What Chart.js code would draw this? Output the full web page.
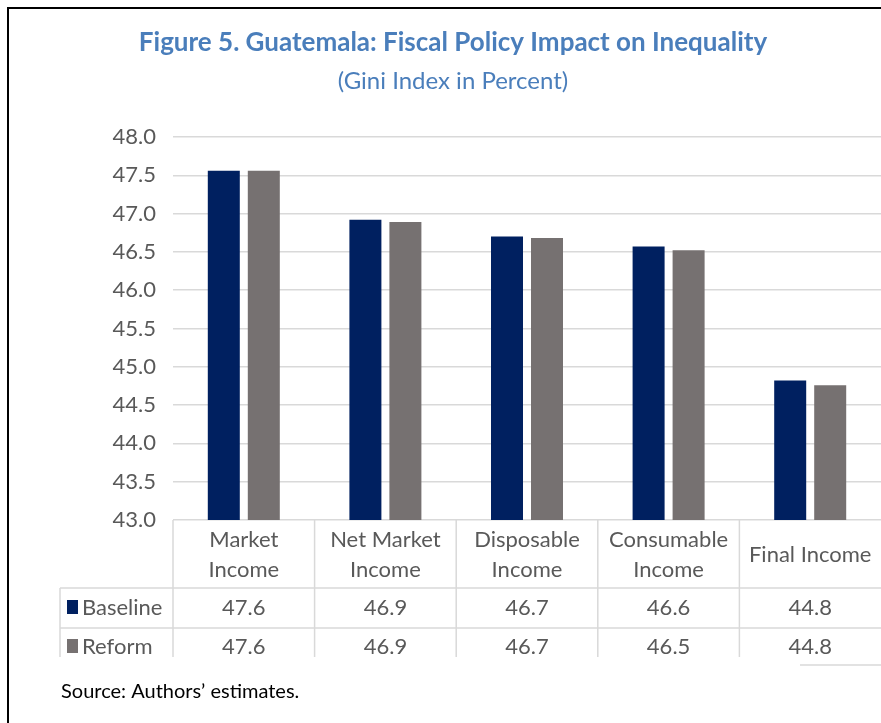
<!DOCTYPE html>
<html>
<head>
<meta charset="utf-8">
<script src="https://cdn.jsdelivr.net/npm/chart.js@4/dist/chart.umd.min.js"></script>
<style>
  html, body { margin: 0; padding: 0; background: #fff; }
  #wrap { width: 881px; height: 723px; position: relative; }
</style>
</head>
<body>
<div id="wrap"><canvas id="giniChart" width="881" height="723"></canvas></div>
<script>
// data
var categories = [['Market', 'Income'], ['Net Market', 'Income'], ['Disposable', 'Income'], ['Consumable', 'Income'], ['Final Income']];
var baseline = [47.56, 46.92, 46.70, 46.57, 44.82];
var reform = [47.56, 46.89, 46.68, 46.52, 44.76];
var yTicks = [43.0, 43.5, 44.0, 44.5, 45.0, 45.5, 46.0, 46.5, 47.0, 47.5, 48.0];

var navy = '#002060';
var grey = '#767171';
var lineGrey = '#d9d9d9';
var textGrey = '#595959';
var fontName = 'Lato, "Open Sans", sans-serif';

// title, data table, source note and frame
var tablePlugin = {
    id: 'tablePlugin',
    afterDraw: function(chart) {
        var ctx = chart.ctx;
        var xs = chart.scales.x;
        var area = chart.chartArea;
        var n = categories.length;
        var colW = (area.right - area.left) / n;
        var row1 = 588, row2 = 628, tableEnd = 657;

        ctx.save();

        // frame
        ctx.strokeStyle = '#000';
        ctx.lineWidth = 2;
        ctx.beginPath();
        ctx.moveTo(8, 723);
        ctx.lineTo(8, 8);
        ctx.lineTo(881, 8);
        ctx.stroke();

        // title + subtitle
        ctx.textAlign = 'center';
        ctx.textBaseline = 'middle';
        ctx.fillStyle = '#4a7ebb';
        ctx.font = 'bold 26px ' + fontName;
        ctx.fillText('Figure 5. Guatemala: Fiscal Policy Impact on Inequality', 453, 43);
        ctx.font = '24px ' + fontName;
        ctx.fillText('(Gini Index in Percent)', 453, 81);

        // table lines
        ctx.strokeStyle = lineGrey;
        ctx.lineWidth = 1.5;
        ctx.beginPath();
        for (var i = 0; i < n; i++) {
            var x = area.left + i * colW;
            ctx.moveTo(x, area.bottom);
            ctx.lineTo(x, tableEnd);
        }
        ctx.moveTo(60, row1); ctx.lineTo(881, row1);
        ctx.moveTo(60, row2); ctx.lineTo(881, row2);
        ctx.moveTo(60, row1); ctx.lineTo(60, tableEnd);
        ctx.moveTo(800, 665); ctx.lineTo(881, 665);
        ctx.stroke();

        // category labels and values
        ctx.fillStyle = textGrey;
        ctx.font = '22px ' + fontName;
        for (var j = 0; j < n; j++) {
            var cx = xs.getPixelForValue(j);
            var lines = categories[j];
            if (lines.length === 2) {
                ctx.fillText(lines[0], cx, 540);
                ctx.fillText(lines[1], cx, 570);
            } else {
                ctx.fillText(lines[0], cx, 555);
            }
            ctx.fillText(baseline[j].toFixed(1), cx, 608);
            ctx.fillText(reform[j].toFixed(1), cx, 647);
        }

        // row headers with legend keys
        ctx.fillStyle = navy;
        ctx.fillRect(67, 600, 11, 14);
        ctx.fillStyle = grey;
        ctx.fillRect(67, 639, 11, 14);
        ctx.fillStyle = textGrey;
        ctx.textAlign = 'left';
        ctx.fillText('Baseline', 82, 608);
        ctx.fillText('Reform', 82, 647);

        // source
        ctx.fillStyle = '#000';
        ctx.font = '20px ' + fontName;
        ctx.fillText('Source: Authors\u2019 estimates.', 61, 692);

        ctx.restore();
    }
};

var ctx = document.getElementById('giniChart').getContext('2d');
var giniChart = new Chart(ctx, {
    type: 'bar',
    data: {
        labels: categories.map(function(c) { return c.join(' '); }),
        datasets: [{
            label: 'Baseline',
            data: baseline,
            backgroundColor: navy,
            categoryPercentage: 0.565,
            barPercentage: 0.8
        }, {
            label: 'Reform',
            data: reform,
            backgroundColor: grey,
            categoryPercentage: 0.565,
            barPercentage: 0.8
        }]
    },
    options: {
        responsive: false,
        animation: false,
        layout: {
            padding: { top: 137, bottom: 203, left: 0, right: 0 }
        },
        plugins: {
            legend: { display: false },
            title: { display: false },
            tooltip: { enabled: false }
        },
        scales: {
            x: {
                afterFit: function(scale) {
                    scale.height = 0;
                },
                ticks: { display: false },
                grid: { display: false },
                border: { display: false }
            },
            y: {
                min: 43,
                max: 48,
                afterBuildTicks: function(scale) {
                    scale.ticks = yTicks.map(function(v) { return { value: v }; });
                },
                afterFit: function(scale) {
                    scale.width = 173;
                },
                ticks: {
                    padding: 17,
                    color: textGrey,
                    font: { family: fontName, size: 22 },
                    callback: function(v) { return Number(v).toFixed(1); }
                },
                grid: { color: lineGrey, lineWidth: 1.5, drawTicks: false },
                border: { display: false }
            }
        }
    },
    plugins: [tablePlugin]
});
</script>
</body>
</html>
